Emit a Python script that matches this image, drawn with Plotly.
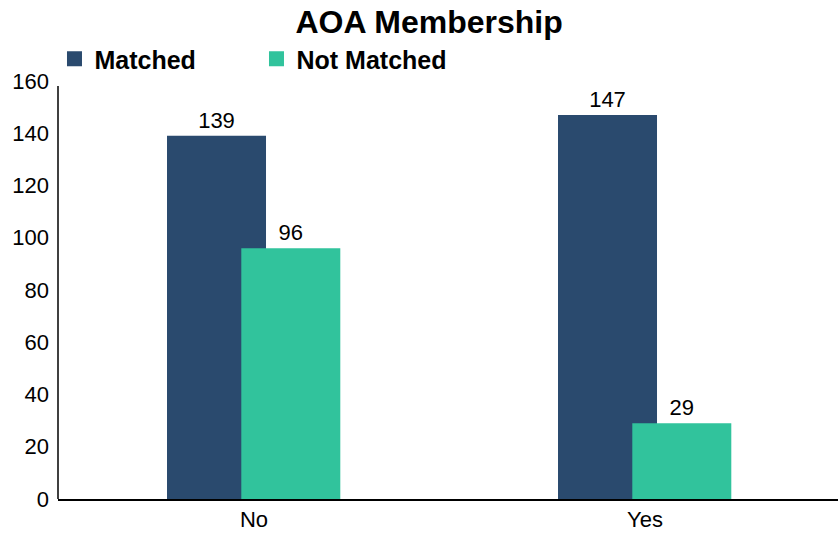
import plotly.graph_objects as go

categories = ["No", "Yes"]
matched = [139, 147]
not_matched = [96, 29]
series_names = ["Matched", "Not Matched"]
colors = ["#2A4A6E", "#31C39C"]

fig = go.Figure()
for vals, name, col, off in [(matched, series_names[0], colors[0], -0.2225),
                             (not_matched, series_names[1], colors[1], -0.0325)]:
    fig.add_trace(go.Bar(
        x=categories, y=vals, name=name, showlegend=False,
        marker=dict(color=col, line=dict(width=0)),
        width=0.2532, offset=off,
        text=vals, textposition="outside",
        textfont=dict(size=22, color="#000000"), cliponaxis=False,
    ))
# legend entries with larger square markers
for name, col in zip(series_names, colors):
    fig.add_trace(go.Scatter(
        x=[None], y=[None], mode="markers", name=name,
        marker=dict(symbol="square", size=15, color=col),
    ))

fig.add_shape(type="line", xref="paper", yref="paper", x0=0, x1=0, y0=0, y1=0.988,
              line=dict(color="#000000", width=1.5), layer="above")

fig.update_layout(
    width=838, height=536,
    barmode="overlay",
    font=dict(family="Liberation Sans, Arial", size=22, color="#000000"),
    title=dict(text="<b>AOA Membership</b>", x=0.512, xanchor="center",
               y=1 - 22 / 536, yanchor="middle", font=dict(size=32)),
    margin=dict(l=58, r=0, t=81, b=37),
    plot_bgcolor="white", paper_bgcolor="white",
    showlegend=True,
    legend=dict(orientation="h", x=-0.0045, xanchor="left", y=1 + 22 / 418, yanchor="middle",
                font=dict(size=25, weight="bold"), entrywidth=157, entrywidthmode="pixels",
                itemsizing="trace", traceorder="normal", bgcolor="rgba(0,0,0,0)"),
    xaxis=dict(showline=True, linecolor="#000000", linewidth=2, showgrid=False,
               ticks="", tickfont=dict(size=22), range=[-0.5013, 1.4936], zeroline=False),
    yaxis=dict(showline=False, showgrid=False,
               range=[0, 160], dtick=20, ticks="", tickfont=dict(size=22),
               ticklabelstandoff=8, zeroline=False),
)
fig.write_html("out.html", config={"displayModeBar": False},
               post_script="document.body.style.margin='0';document.body.style.overflow='hidden';")
